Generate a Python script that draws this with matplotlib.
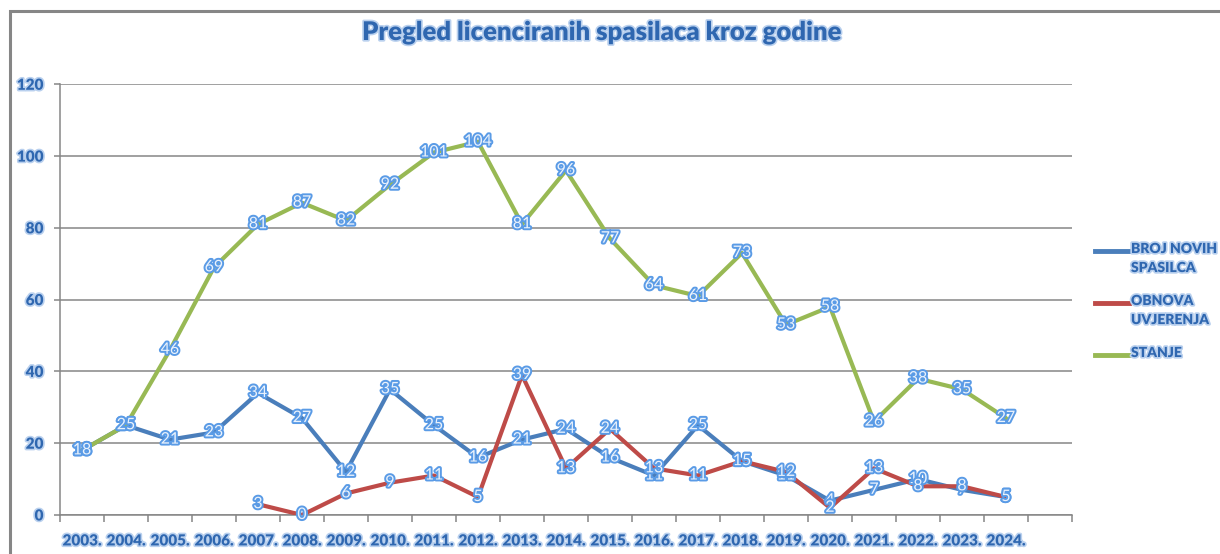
import numpy as np
import matplotlib
matplotlib.use("Agg")
import matplotlib.pyplot as plt
import matplotlib.patheffects as pe
from matplotlib.lines import Line2D
from matplotlib.patches import Rectangle

# podaci po godinama
godine = ["2003.", "2004.", "2005.", "2006.", "2007.", "2008.", "2009.", "2010.",
          "2011.", "2012.", "2013.", "2014.", "2015.", "2016.", "2017.", "2018.",
          "2019.", "2020.", "2021.", "2022.", "2023.", "2024."]
novi_spasioci = [18, 25, 21, 23, 34, 27, 12, 35, 25, 16, 21, 24, 16, 11, 25, 15, 11, 4, 7, 10, 7, 5]
obnova = [np.nan, np.nan, np.nan, np.nan, 3, 0, 6, 9, 11, 5, 39, 13, 24, 13, 11, 15, 12, 2, 13, 8, 8, 5]
stanje = [18, 25, 46, 69, 81, 87, 82, 92, 101, 104, 81, 96, 77, 64, 61, 73, 53, 58, 26, 38, 35, 27]

serije = [
    ("BROJ NOVIH\nSPASILCA", novi_spasioci, "#4A7EBB"),
    ("OBNOVA\nUVJERENJA", obnova, "#BE4B48"),
    ("STANJE", stanje, "#98B954"),
]

plt.rcParams['font.family'] = ['Lato', 'DejaVu Sans']

plava = "#2F67B0"
sjaj = [pe.withStroke(linewidth=2.4, foreground="#B9D0EE")]
oznaka_fx = [pe.withStroke(linewidth=2.8, foreground="#5A9BE6")]

fig = plt.figure(figsize=(12.2, 5.54), dpi=100)
ax = fig.add_axes([60 / 1220, 1 - 515 / 554, (1072 - 60) / 1220, (515 - 84.3) / 554])

x = np.arange(len(godine))
for naziv, vrijednosti, boja in serije:
    ax.plot(x, vrijednosti, color=boja, lw=3.0, solid_capstyle="round", label=naziv, zorder=3)

# oznake vrijednosti
for naziv, vrijednosti, boja in serije:
    for xi, v in zip(x, vrijednosti):
        if np.isnan(v):
            continue
        ax.text(xi, v, f"{int(v)}", ha="center", va="center", fontsize=11.5,
                color="#EAF2FC", path_effects=oznaka_fx, zorder=5, clip_on=False)

ax.set_xlim(-0.5, len(godine) + 0.5)
ax.set_ylim(0, 120)
ax.set_yticks(np.arange(0, 121, 20))
ax.set_xticks(np.arange(-0.5, len(godine) + 1, 1), minor=False)
ax.set_xticklabels([])
ax.set_xticks(x, minor=True)
ax.set_xticklabels(godine, minor=True)

ax.grid(axis="y", color="#868686", lw=1.1)
ax.set_axisbelow(True)
for s in ["top", "right"]:
    ax.spines[s].set_visible(False)
for s in ["left", "bottom"]:
    ax.spines[s].set_color("#868686")
    ax.spines[s].set_linewidth(1.1)

ax.tick_params(axis="x", which="major", length=5, color="#868686", width=1.1)
ax.tick_params(axis="x", which="minor", length=0, pad=14)
ax.tick_params(axis="y", length=4, color="#868686", width=1.1, pad=8)
for lbl in ax.get_xticklabels(minor=True) + ax.get_yticklabels():
    lbl.set_fontsize(11)
    lbl.set_fontweight("heavy")
    lbl.set_color(plava)
    lbl.set_path_effects(sjaj)

fig.text(0.494, 1 - 32 / 554, "Pregled licenciranih spasilaca kroz godine", ha="center", va="center",
         fontsize=18.5, fontweight="heavy", color=plava, path_effects=sjaj)

# legenda (rucno, zbog razmaka redova)
leg_y = [251, 303, 355]
for (naziv, vrijednosti, boja), yy in zip(serije, leg_y):
    fig.add_artist(Line2D([1095 / 1220, 1129 / 1220], [1 - yy / 554] * 2, color=boja, lw=3.5,
                          transform=fig.transFigure))
    fig.text(1131 / 1220, 1 - (yy - 9) / 554, naziv, ha="left", va="top", fontsize=10,
             fontweight="heavy", color=plava, path_effects=sjaj, linespacing=1.55)

# okvir grafikona
fig.patches.append(Rectangle((10 / 1220, -0.1), 1.2, 1 - 11 / 554 + 0.1, transform=fig.transFigure,
                             fill=False, edgecolor="#868686", lw=2.2))

fig.savefig("out.png", dpi=100)
